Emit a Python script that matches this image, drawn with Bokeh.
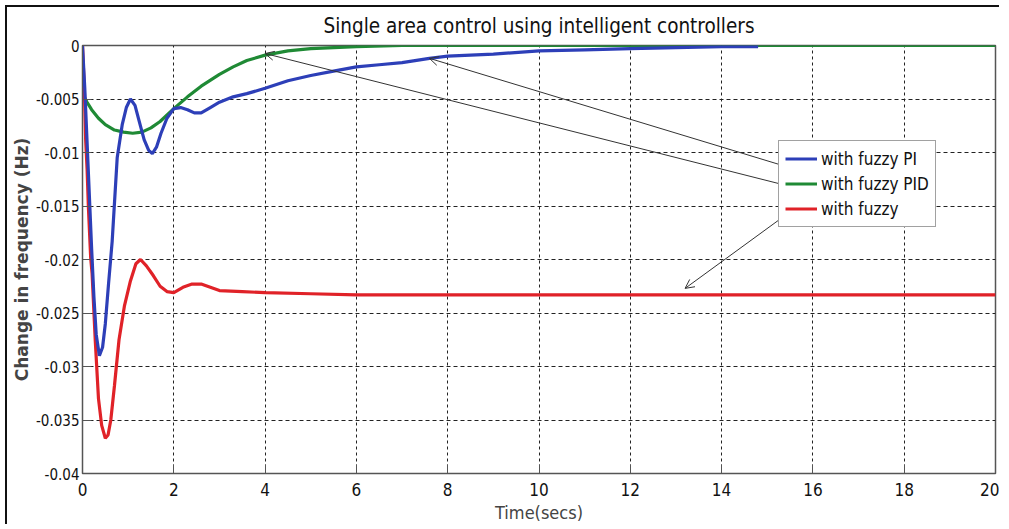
from bokeh.plotting import figure
from bokeh.embed import file_html
from bokeh.resources import INLINE
from bokeh.models import FixedTicker, CustomJSTickFormatter, Arrow, OpenHead

# ---- data ----
t_pi = [0, 0.05, 0.1, 0.15, 0.2, 0.25, 0.3, 0.37, 0.44, 0.5, 0.57, 0.65, 0.76, 0.87, 0.96,
        1.05, 1.15, 1.25, 1.35, 1.45, 1.53, 1.62, 1.72, 1.85, 2.0, 2.15, 2.3, 2.45, 2.6, 2.8,
        3.0, 3.3, 3.6, 4.0, 4.5, 5.0, 5.5, 6.0, 6.5, 7.0, 7.6, 8.0, 9.0, 10.0, 11.0, 12.0,
        13.0, 14.0, 14.8]
v_pi = [0, -0.004, -0.009, -0.014, -0.019, -0.0235, -0.027, -0.029, -0.0282, -0.026, -0.0223,
        -0.0183, -0.0105, -0.0074, -0.0058, -0.0050, -0.0056, -0.0072, -0.0088, -0.0098,
        -0.0101, -0.0095, -0.0082, -0.0068, -0.0059, -0.0058, -0.0060, -0.0063, -0.0063,
        -0.0058, -0.0053, -0.0048, -0.0045, -0.0040, -0.0033, -0.0028, -0.0024, -0.0020,
        -0.0018, -0.0016, -0.0012, -0.0010, -0.0008, -0.0005, -0.0004, -0.0003, -0.0002,
        -0.0001, -0.0001]

t_pid = [0, 0.1, 0.2, 0.35, 0.5, 0.7, 0.9, 1.1, 1.3, 1.5, 1.7, 2.0, 2.3, 2.6, 3.0, 3.3, 3.6,
         4.0, 4.5, 5.0, 5.5, 6.0, 7.0, 20.0]
v_pid = [-0.0045, -0.0053, -0.0060, -0.0068, -0.0074, -0.0079, -0.0081, -0.0082, -0.0081,
         -0.0077, -0.0071, -0.0059, -0.0048, -0.0038, -0.0027, -0.0020, -0.0014, -0.0009,
         -0.0005, -0.0003, -0.0002, -0.0001, 0.0, 0.0]

t_fz = [0, 0.04, 0.07, 0.1, 0.13, 0.18, 0.21, 0.28, 0.35, 0.42, 0.5, 0.56, 0.62, 0.7, 0.8,
        0.92, 1.05, 1.17, 1.27, 1.4, 1.55, 1.7, 1.85, 2.0, 2.2, 2.4, 2.6, 2.8, 3.0, 3.5, 4.0,
        5.0, 6.0, 8.0, 10.0, 20.0]
v_fz = [0, -0.004, -0.0089, -0.0115, -0.0152, -0.0199, -0.0213, -0.0276, -0.0330, -0.0355,
        -0.0367, -0.0364, -0.0350, -0.0318, -0.0275, -0.0243, -0.0220, -0.0204, -0.0200,
        -0.0206, -0.0215, -0.0225, -0.0230, -0.0231, -0.0226, -0.0223, -0.0223, -0.0226,
        -0.0229, -0.0230, -0.0231, -0.0232, -0.0233, -0.0233, -0.0233, -0.0233]

series_labels = ["with fuzzy PI", "with fuzzy PID", "with fuzzy"]
x_ticks = [0, 2, 4, 6, 8, 10, 12, 14, 16, 18, 20]
y_ticks = [-0.04, -0.035, -0.03, -0.025, -0.02, -0.015, -0.01, -0.005, 0]

# annotation arrows: (x_start, y_start) at legend -> (x_end, y_end) on curve
arrow_x_start = [15.25, 15.25, 15.45]
arrow_y_start = [-0.0111, -0.0129, -0.0157]
arrow_x_end = [7.6, 4.0, 13.2]
arrow_y_end = [-0.0012, -0.00075, -0.0227]

NARROW = "'Liberation Sans Narrow', 'DejaVu Sans Condensed', sans-serif"

p = figure(width=994, height=519, output_backend="svg", toolbar_location=None,
           x_range=(0, 20), y_range=(-0.04, 0),
           min_border_left=75, min_border_right=6, min_border_top=37, min_border_bottom=53,
           title="Single area control using intelligent controllers")

p.styles = {"margin-left": "5px", "margin-top": "5px",
            "border-top": "2px solid #111", "border-left": "2px solid #111"}

p.title.align = "center"
p.title.vertical_align = "top"
p.title.text_font = NARROW
p.title.text_font_size = "20.5px"
p.title.text_font_style = "normal"
p.title.text_color = "#111"
p.title.standoff = 12

p.outline_line_color = "#555"
p.outline_line_width = 1.5

for ax in (p.xaxis[0], p.yaxis[0]):
    ax.major_label_text_font = NARROW
    ax.major_label_text_color = "#111"
    ax.axis_line_color = "#555"
    ax.major_tick_line_color = "#555"
    ax.major_tick_in = 9
    ax.major_tick_out = 0
    ax.minor_tick_line_color = None

p.xaxis.major_label_text_font_size = "17px"
p.yaxis.major_label_text_font_size = "15px"
p.xaxis.ticker = FixedTicker(ticks=x_ticks)
p.yaxis.ticker = FixedTicker(ticks=y_ticks)
p.yaxis.formatter = CustomJSTickFormatter(
    code="return tick == 0 ? '0' : String(parseFloat(tick.toFixed(3)));")
p.xaxis.major_label_standoff = 9
p.yaxis.major_label_standoff = 3

p.xaxis.axis_label = "Time(secs)"
p.xaxis.axis_label_text_font = NARROW
p.xaxis.axis_label_text_font_size = "18px"
p.xaxis.axis_label_text_font_style = "normal"
p.xaxis.axis_label_standoff = 3

p.yaxis.axis_label = "Change in frequency (Hz)"
p.yaxis.axis_label_text_font = "DejaVu Sans"
p.yaxis.axis_label_text_font_size = "17px"
p.yaxis.axis_label_text_font_style = "bold"
p.yaxis.axis_label_standoff = 1

p.xgrid.grid_line_color = "#222"
p.xgrid.grid_line_dash = "3 3"
p.xgrid.grid_line_width = 1
p.ygrid.grid_line_color = "#222"
p.ygrid.grid_line_dash = "4 3"
p.ygrid.grid_line_width = 1

p.line(t_pid, v_pid, line_color="#1f8a35", line_width=3.2, legend_label=series_labels[1])
p.line(t_fz, v_fz, line_color="#e02228", line_width=3.2, legend_label=series_labels[2])
p.line(t_pi, v_pi, line_color="#2d3fb8", line_width=3.2, legend_label=series_labels[0])

# order legend items as PI, PID, fuzzy
items = {it.label.value: it for it in p.legend[0].items}
p.legend[0].items = [items[s] for s in series_labels]

lg = p.legend[0]
lg.location = (696, 246)
lg.margin = 0
lg.padding = 6
lg.spacing = 2
lg.glyph_width = 32
lg.glyph_height = 23
lg.label_height = 23
lg.label_standoff = 4
lg.label_text_font = NARROW
lg.label_text_font_size = "17px"
lg.label_text_color = "#111"
lg.border_line_color = "#444"
lg.border_line_width = 1.2
lg.background_fill_color = "white"
lg.background_fill_alpha = 1

for xs, ys, xe, ye in zip(arrow_x_start, arrow_y_start, arrow_x_end, arrow_y_end):
    p.add_layout(Arrow(end=OpenHead(size=9, line_color="#333", line_width=1),
                       x_start=xs, y_start=ys, x_end=xe, y_end=ye,
                       line_color="#333", line_width=1))

open("out.html", "w").write(file_html(p, INLINE))
